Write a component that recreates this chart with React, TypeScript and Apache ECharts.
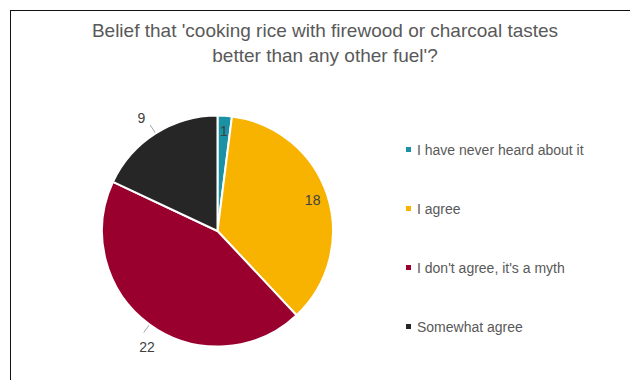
import React, { useEffect, useRef } from "react";
import * as echarts from "echarts";

const titleText = "Belief that 'cooking rice with firewood or charcoal tastes\nbetter than any other fuel'?";
const categories = [
  "I have never heard about it",
  "I agree",
  "I don't agree, it's a myth",
  "Somewhat agree",
];
const values = [1, 18, 22, 9];
const colors = ["#1A92A3", "#F8B300", "#99002E", "#262626"];
const insideLabelIdx = [0, 1];

const FONT = "'Liberation Sans', Arial, sans-serif";

export default function App() {
  const ref = useRef<HTMLDivElement>(null);
  useEffect(() => {
    if (!ref.current) return;
    const chart = echarts.init(ref.current, undefined, { renderer: "svg" });
    const cx = 217.5;
    const cy = 231;
    const R = 115.5;
    const labelShift: Record<number, [number, number]> = { 2: [14, 14], 3: [-2, -7] };
    const mainData = categories.map((name, i) => ({
      name,
      value: values[i],
      itemStyle: { color: colors[i] },
      label: { show: !insideLabelIdx.includes(i) },
      labelLine: { show: !insideLabelIdx.includes(i) },
    }));
    const overlayData = categories.map((name, i) => ({
      name,
      value: values[i],
      label: { show: insideLabelIdx.includes(i) },
    }));
    chart.setOption({
      animation: false,
      title: {
        text: titleText,
        left: 325,
        textAlign: "center",
        top: 18,
        padding: 0,
        textStyle: {
          fontFamily: FONT,
          fontSize: 19,
          fontWeight: "normal",
          color: "#595959",
          lineHeight: 25,
        },
      },
      legend: {
        orient: "vertical",
        left: 404,
        top: 141,
        padding: 0,
        itemWidth: 7,
        itemHeight: 7,
        icon: "rect",
        itemGap: 42,
        data: categories,
        textStyle: {
          fontFamily: FONT,
          fontSize: 14,
          color: "#595959",
          lineHeight: 17,
        },
      },
      series: [
        {
          type: "pie",
          center: [cx, cy],
          radius: [0, R],
          startAngle: 90,
          clockwise: true,
          itemStyle: { borderColor: "#ffffff", borderWidth: 2 },
          label: {
            position: "outside",
            fontFamily: FONT,
            fontSize: 14,
            color: "#404040",
            formatter: "{c}",
            distanceToLabelLine: 3,
          },
          labelLine: {
            show: true,
            length: 10,
            length2: 0,
            lineStyle: { color: "#A6A6A6", width: 1 },
          },
          labelLayout: (p: any) => {
            const s = labelShift[p.dataIndex];
            return s ? { dx: s[0], dy: s[1] } : {};
          },
          emphasis: { disabled: true },
          data: mainData,
        },
        {
          type: "pie",
          center: [cx, cy],
          radius: [R * 0.68, R],
          startAngle: 90,
          clockwise: true,
          silent: true,
          itemStyle: { color: "rgba(0,0,0,0)", borderWidth: 0 },
          label: {
            position: "inside",
            fontFamily: FONT,
            fontSize: 14,
            color: "#404040",
            formatter: "{c}",
          },
          labelLine: { show: false },
          emphasis: { disabled: true },
          data: overlayData,
        },
      ],
    });
    return () => chart.dispose();
  }, []);
  return (
    <div style={{ position: "fixed", left: 0, top: 0, width: 630, height: 380, overflow: "hidden", background: "#fff" }}>
      <div
        style={{
          position: "absolute",
          left: 10,
          top: 10,
          width: 640,
          height: 400,
          borderTop: "1.5px solid #111",
          borderLeft: "1.5px solid #111",
        }}
      />
      <div ref={ref} style={{ position: "absolute", left: 0, top: 0, width: 630, height: 380 }} />
    </div>
  );
}
